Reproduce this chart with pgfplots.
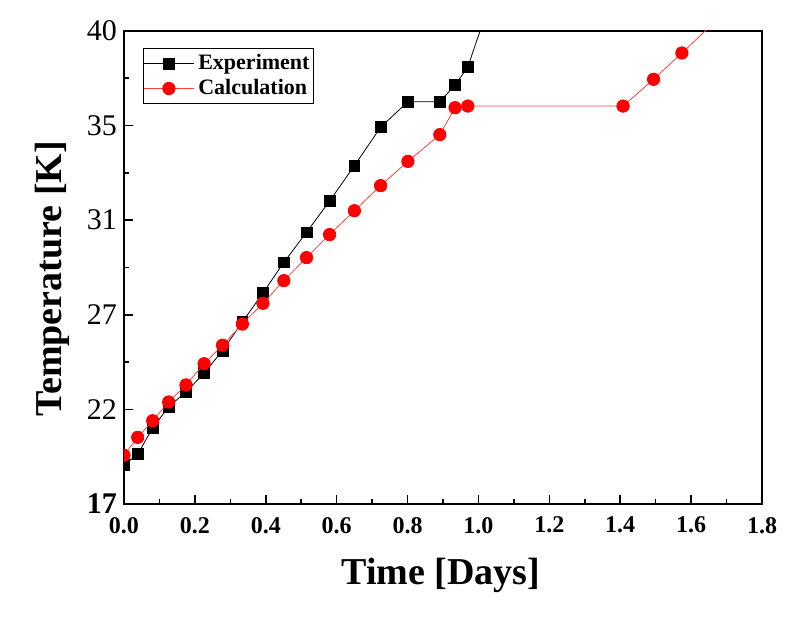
\documentclass[border=0pt]{standalone}
\usepackage{fontspec}
\setmainfont{Liberation Serif}
\usepackage{pgfplots}
\pgfplotsset{compat=1.18}
\definecolor{myred}{RGB}{255,0,0}
\begin{document}
\begin{tikzpicture}
\useasboundingbox (-62pt,-57.5pt) rectangle (334pt,252pt);
\begin{axis}[
  at={(0pt,0pt)}, anchor=south west,
  scale only axis, width=319pt, height=236.5pt,
  xmin=0, xmax=1.8, ymin=17, ymax=40,
  clip marker paths=true,
  axis line style={line width=1pt},
  tick style={black, line width=0.8pt},
  tick align=inside,
  xtick pos=bottom, ytick pos=left,
  major tick length=4.5pt, minor tick length=2.5pt,
  xtick={0,0.2,0.4,0.6,0.8,1.0,1.2,1.4,1.6,1.8},
  xticklabels={0.0,0.2,0.4,0.6,0.8,1.0,1.2,1.4,1.6,1.8},
  minor x tick num=1,
  ytick={17,21.6,26.2,30.8,35.4,40},
  yticklabels={\textbf{17},22,27,31,35,40},
  minor y tick num=1,
  xticklabel style={font=\fontsize{12}{14}\selectfont\bfseries, yshift=-3pt},
  yticklabel style={font=\fontsize{15}{17}\selectfont},
  xlabel={Time [Days]},
  ylabel={Temperature [K]},
  xlabel style={font=\fontsize{19}{22}\selectfont\bfseries, at={(axis description cs:0.497,0)}, anchor=base, yshift=-40.5pt},
  ylabel style={font=\fontsize{19}{22}\selectfont\bfseries, at={(axis description cs:-0.0972,0.476)}, anchor=base},
  legend style={at={(rel axis cs:0.0298,0.964)}, anchor=north west, draw=black, line width=0.5pt,
    inner xsep=0pt, inner ysep=1.5pt, row sep=0pt,
    font=\fontsize{11}{13}\selectfont\bfseries,
    nodes={inner xsep=2pt, inner ysep=1.6pt}},
  legend cell align=left,
  legend image code/.code={\draw[#1, mark indices={2}] plot coordinates {(0pt,0pt)(12.5pt,0pt)(25pt,0pt)};},
]
\addplot[black, line width=0.4pt, mark=square*, mark size=2.7pt,
  mark options={solid, fill=black, draw=black},
  mark indices={1,2,3,4,5,6,7,8,9,10,11,12,13,14,15,16,17,18}]
coordinates {
(0,18.90) (0.0386,19.42) (0.081,20.70) (0.126,21.73) (0.175,22.45)
(0.226,23.36) (0.278,24.46) (0.334,25.85) (0.392,27.26) (0.451,28.75)
(0.515,30.21) (0.580,31.73) (0.650,33.45) (0.724,35.32) (0.801,36.56)
(0.891,36.56) (0.934,37.37) (0.970,38.25) (1.03,41.29)
};
\addlegendentry{Experiment}
\addplot[myred!75, line width=0.4pt, mark=*, mark size=3.1pt,
  mark options={solid, fill=myred, draw=myred},
  mark indices={1,2,3,4,5,6,7,8,9,10,11,12,13,14,15,16,17,18,19,20,21}]
coordinates {
(0,19.37) (0.0386,20.24) (0.081,21.05) (0.126,21.96) (0.175,22.79)
(0.226,23.82) (0.278,24.72) (0.334,25.75) (0.392,26.76) (0.451,27.86)
(0.515,28.98) (0.580,30.10) (0.650,31.26) (0.724,32.48) (0.801,33.66)
(0.891,34.96) (0.934,36.27) (0.970,36.35) (1.408,36.35) (1.494,37.65)
(1.574,38.93) (1.655,40.25)
};
\addlegendentry{Calculation}
\end{axis}
\end{tikzpicture}
\end{document}
